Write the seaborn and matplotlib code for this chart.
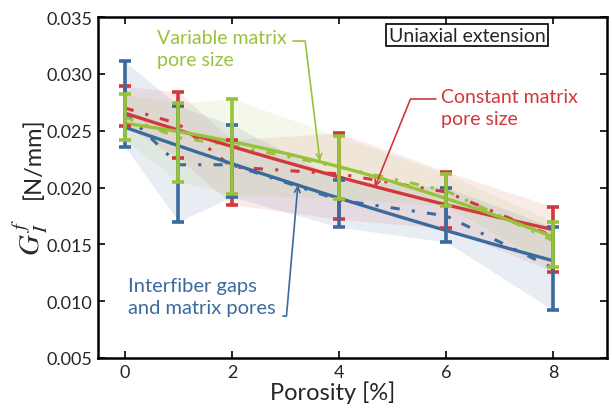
import numpy as np
import pandas as pd
import matplotlib
matplotlib.use("Agg")
import matplotlib.pyplot as plt
import seaborn as sns

# ---------------- data ----------------
porosity = [0, 1, 2, 4, 6, 8]

blue_mean = [0.0266, 0.0220, 0.0220, 0.0189, 0.0175, 0.0129]
blue_lo = [0.0236, 0.0170, 0.0192, 0.0165, 0.0152, 0.0092]
blue_hi = [0.0311, 0.0272, 0.0255, 0.0207, 0.0200, 0.0165]

red_mean = [0.0270, 0.0256, 0.0218, 0.0212, 0.0196, 0.0157]
red_lo = [0.0254, 0.0226, 0.0185, 0.0172, 0.0164, 0.0126]
red_hi = [0.0289, 0.0284, 0.0242, 0.0248, 0.0214, 0.0183]

green_mean = [0.0262, 0.0244, 0.0237, 0.0218, 0.0197, 0.0153]
green_lo = [0.0242, 0.0205, 0.0194, 0.0190, 0.0184, 0.0130]
green_hi = [0.0282, 0.0274, 0.0278, 0.0245, 0.0212, 0.0170]

series_names = ["Interfiber gaps\nand matrix pores", "Constant matrix\npore size", "Variable matrix\npore size"]
y_ticks = [0.005, 0.010, 0.015, 0.020, 0.025, 0.030, 0.035]
x_ticks = [0, 2, 4, 6, 8]

colors = {"blue": "#3B6B9E", "red": "#D2383A", "green": "#97C33B"}

rows = []
for key, m, lo, hi in [("blue", blue_mean, blue_lo, blue_hi),
                       ("red", red_mean, red_lo, red_hi),
                       ("green", green_mean, green_lo, green_hi)]:
    for x, a, b, c in zip(porosity, m, lo, hi):
        rows.append(dict(series=key, x=x, mean=a, lo=b, hi=c))
df = pd.DataFrame(rows)

# ---------------- style ----------------
sns.set_style("ticks")
plt.rcParams["font.family"] = ["Lato", "DejaVu Sans"]
plt.rcParams["mathtext.fontset"] = "stix"

fig = plt.figure(figsize=(6.12, 4.10), dpi=100)
ax = fig.add_axes([98 / 612, 1 - 359 / 410, (607 - 98) / 612, (359 - 18) / 410])

band_alpha = {"blue": 0.12, "red": 0.10, "green": 0.10}
for key in ["blue", "red", "green"]:
    d = df[df.series == key]
    ax.fill_between(d.x, d.lo, d.hi, color=colors[key], alpha=band_alpha[key], lw=0, zorder=1)

for key in ["blue", "red", "green"]:
    d = df[df.series == key]
    sns.lineplot(data=d, x="x", y="mean", ax=ax, color=colors[key], lw=2.2,
                 linestyle=(0, (3, 4, 1, 4)), zorder=3, errorbar=None)

for key in ["blue", "red", "green"]:
    d = df[df.series == key]
    sns.regplot(data=d, x="x", y="mean", ax=ax, ci=None, scatter=False, truncate=True, order=2,
                line_kws=dict(color=colors[key], lw=2.4, zorder=4))

for key, z in [("red", 5), ("blue", 6), ("green", 7)]:
    d = df[df.series == key]
    ax.errorbar(d.x, d["mean"], yerr=[d["mean"] - d.lo, d.hi - d["mean"]], fmt="none",
                ecolor=colors[key], elinewidth=2.6, capsize=4, capthick=2.6, zorder=z)

ax.set_xlim(-0.5, 9)
ax.set_ylim(0.005, 0.035)
ax.set_xticks(x_ticks)
ax.set_yticks(y_ticks)
ax.set_yticklabels([f"{v:.3f}" for v in y_ticks])
ax.tick_params(direction="in", length=5, width=1.4, labelsize=13, top=True, right=True,
               pad=4)
for s in ax.spines.values():
    s.set_linewidth(1.8)
    s.set_color("black")

ax.set_xlabel("Porosity [%]", fontsize=17, labelpad=2)
ax.xaxis.set_label_coords((333 - 98) / 509, -0.065)
ax.set_ylabel("")

# y label built from two pieces (bigger italic G)
fig.text(40 / 612, 1 - 158 / 410, "[N/mm]", rotation=90, rotation_mode="anchor",
         ha="center", va="baseline", fontsize=17)
fig.text(40 / 612, 1 - 237 / 410, r"$G^{\,f}_{\,I}$", rotation=90, rotation_mode="anchor",
         ha="center", va="baseline", fontsize=21)

# box label
ax.text((467 - 98) / 509, 1 - (36 - 18) / 341, "Uniaxial extension", transform=ax.transAxes,
        ha="center", va="center", fontsize=14,
        bbox=dict(boxstyle="square,pad=0.12", fc="white", ec="black", lw=1.2), zorder=10)

# annotations
def px2data(px, py):
    return (px - 124.8) / 53.6, 0.035 - (py - 18) * 0.000088

tx, ty = px2data(157, 30)
ax.text(tx, ty, series_names[2], color=colors["green"], fontsize=14, ha="left", va="top",
        linespacing=1.35, zorder=10)
tx, ty = px2data(441, 89)
ax.text(tx, ty, series_names[1], color=colors["red"], fontsize=14, ha="left", va="top",
        linespacing=1.35, zorder=10)
tx, ty = px2data(128, 278)
ax.text(tx, ty, series_names[0], color=colors["blue"], fontsize=14.5, ha="left", va="top",
        linespacing=1.35, zorder=10)

ax.annotate("", xy=px2data(320, 162), xytext=px2data(293, 42),
            arrowprops=dict(arrowstyle="->", color=colors["green"], lw=1.2,
                            connectionstyle="angle,angleA=0,angleB=97,rad=0",
                            shrinkA=0, shrinkB=0), zorder=10)
ax.annotate("", xy=px2data(375, 188), xytext=px2data(436, 100),
            arrowprops=dict(arrowstyle="->", color=colors["red"], lw=1.2,
                            connectionstyle="angle,angleA=0,angleB=68,rad=0",
                            shrinkA=0, shrinkB=0), zorder=10)
ax.annotate("", xy=px2data(298, 186), xytext=px2data(283, 317),
            arrowprops=dict(arrowstyle="->", color=colors["blue"], lw=1.2,
                            connectionstyle="angle,angleA=0,angleB=-95,rad=0",
                            shrinkA=0, shrinkB=0), zorder=10)

fig.savefig("out.png", dpi=100)
